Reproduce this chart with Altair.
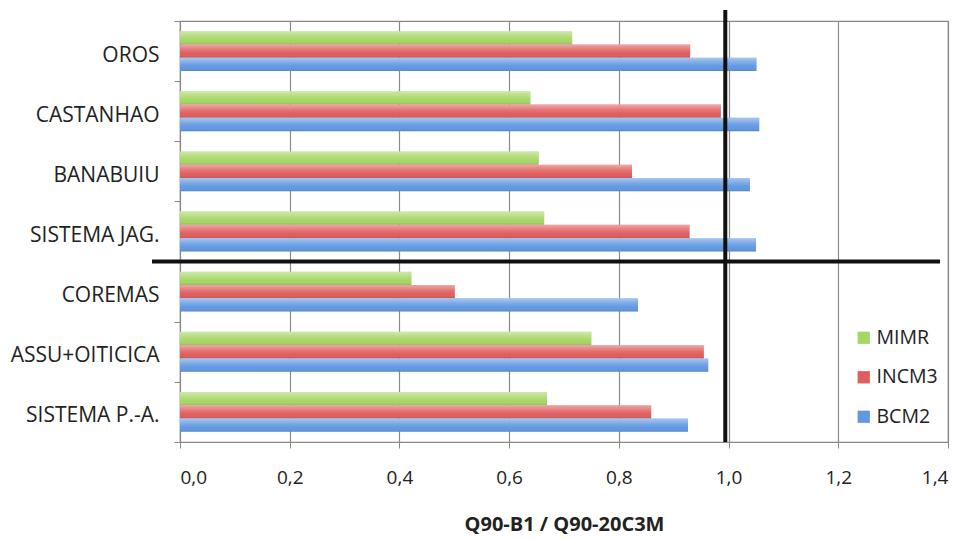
import altair as alt
import pandas as pd

# Reservoirs (top to bottom) and climate models
reservoirs = ["OROS", "CASTANHAO", "BANABUIU", "SISTEMA JAG.",
              "COREMAS", "ASSU+OITICICA", "SISTEMA P.-A."]
models = ["MIMR", "INCM3", "BCM2"]

# Ratio Q90-B1 / Q90-20C3M for each model
mimr = [0.715, 0.639, 0.654, 0.664, 0.422, 0.750, 0.669]
incm3 = [0.930, 0.986, 0.824, 0.929, 0.501, 0.955, 0.859]
bcm2 = [1.051, 1.056, 1.039, 1.050, 0.835, 0.963, 0.926]

x_ticks = [0.0, 0.2, 0.4, 0.6, 0.8, 1.0, 1.2, 1.4]
model_colors = ["#a6d665", "#e05d5d", "#6198e2"]

reference_ratio = 0.994      # vertical reference line
split_before = "COREMAS"     # horizontal separator between basins

rows = []
for name, vals in zip(models, [mimr, incm3, bcm2]):
    for res, v in zip(reservoirs, vals):
        rows.append({"reservoir": res, "model": name, "ratio": v})
df = pd.DataFrame(rows)

W, H = 768, 421
FONT = "Open Sans"

x_enc = alt.X(
    "ratio:Q",
    scale=alt.Scale(domain=[0, 1.4], nice=False, zero=True),
    axis=alt.Axis(
        values=x_ticks,
        labelExpr="replace(format(datum.value, '.1f'), '.', ',')",
        title="Q90-B1 / Q90-20C3M",
        titleFont=FONT, titleFontSize=20, titleFontWeight="bold",
        titleColor="#222", titlePadding=27,
        labelFont=FONT, labelFontSize=19, labelColor="#222",
        labelPadding=20, tickSize=6, tickColor="#888",
        domainColor="#888", grid=True, gridColor="#8a8a8a",
        gridWidth=1.2,
    ),
)
y_enc = alt.Y(
    "reservoir:N",
    sort=reservoirs,
    scale=alt.Scale(domain=reservoirs, paddingInner=0, paddingOuter=0),
    axis=alt.Axis(
        title=None, labelFont=FONT, labelFontSize=21, labelColor="#222",
        labelPadding=15, labelOffset=4, tickSize=6, tickColor="#888",
        tickBand="extent", domainColor="#888", grid=False,
    ),
)
yoff_enc = alt.YOffset(
    "model:N", sort=models,
    scale=alt.Scale(domain=models, paddingInner=0, paddingOuter=0.765),
)

bars = alt.Chart(df).mark_bar().encode(
    x=x_enc,
    y=y_enc,
    yOffset=yoff_enc,
    color=alt.Color(
        "model:N",
        scale=alt.Scale(domain=models, range=model_colors),
        legend=alt.Legend(
            orient="none", legendX=674, legendY=307, title=None,
            symbolType="square", symbolSize=150, symbolStrokeWidth=0,
            labelFont=FONT, labelFontSize=19.5, labelColor="#222",
            labelOffset=3, rowPadding=18.5, padding=0,
        ),
    ),
)

# Glossy shading on top of each bar
gloss = alt.Chart(df).mark_bar(
    color=alt.Gradient(
        gradient="linear", x1=0, y1=0, x2=0, y2=1,
        stops=[
            alt.GradientStop(color="rgba(255,255,255,0.45)", offset=0),
            alt.GradientStop(color="rgba(255,255,255,0.12)", offset=0.45),
            alt.GradientStop(color="rgba(255,255,255,0)", offset=0.7),
            alt.GradientStop(color="rgba(0,0,0,0.13)", offset=1),
        ],
    )
).encode(x="ratio:Q", y=alt.Y("reservoir:N", sort=reservoirs),
         yOffset=alt.YOffset("model:N", sort=models))

vline = alt.Chart().mark_rule(color="#111", strokeWidth=4).encode(
    x=alt.X(datum=reference_ratio),
    y=alt.value(-11),
    y2=alt.value(H),
)

hline = alt.Chart().mark_rule(color="#111", strokeWidth=4).encode(
    y=alt.Y(datum=split_before, bandPosition=0),
    x=alt.value(-28),
    x2=alt.value(W - 8),
)

chart = alt.layer(bars, gloss, vline, hline).properties(
    width=W, height=H,
    autosize=alt.AutoSizeParams(type="none"),
    padding={"left": 180, "top": 21, "right": 19, "bottom": 97},
    background="white",
).configure_view(stroke="#888", strokeWidth=1.2)

chart.save("out.html", embed_options={"renderer": "svg", "actions": False})
